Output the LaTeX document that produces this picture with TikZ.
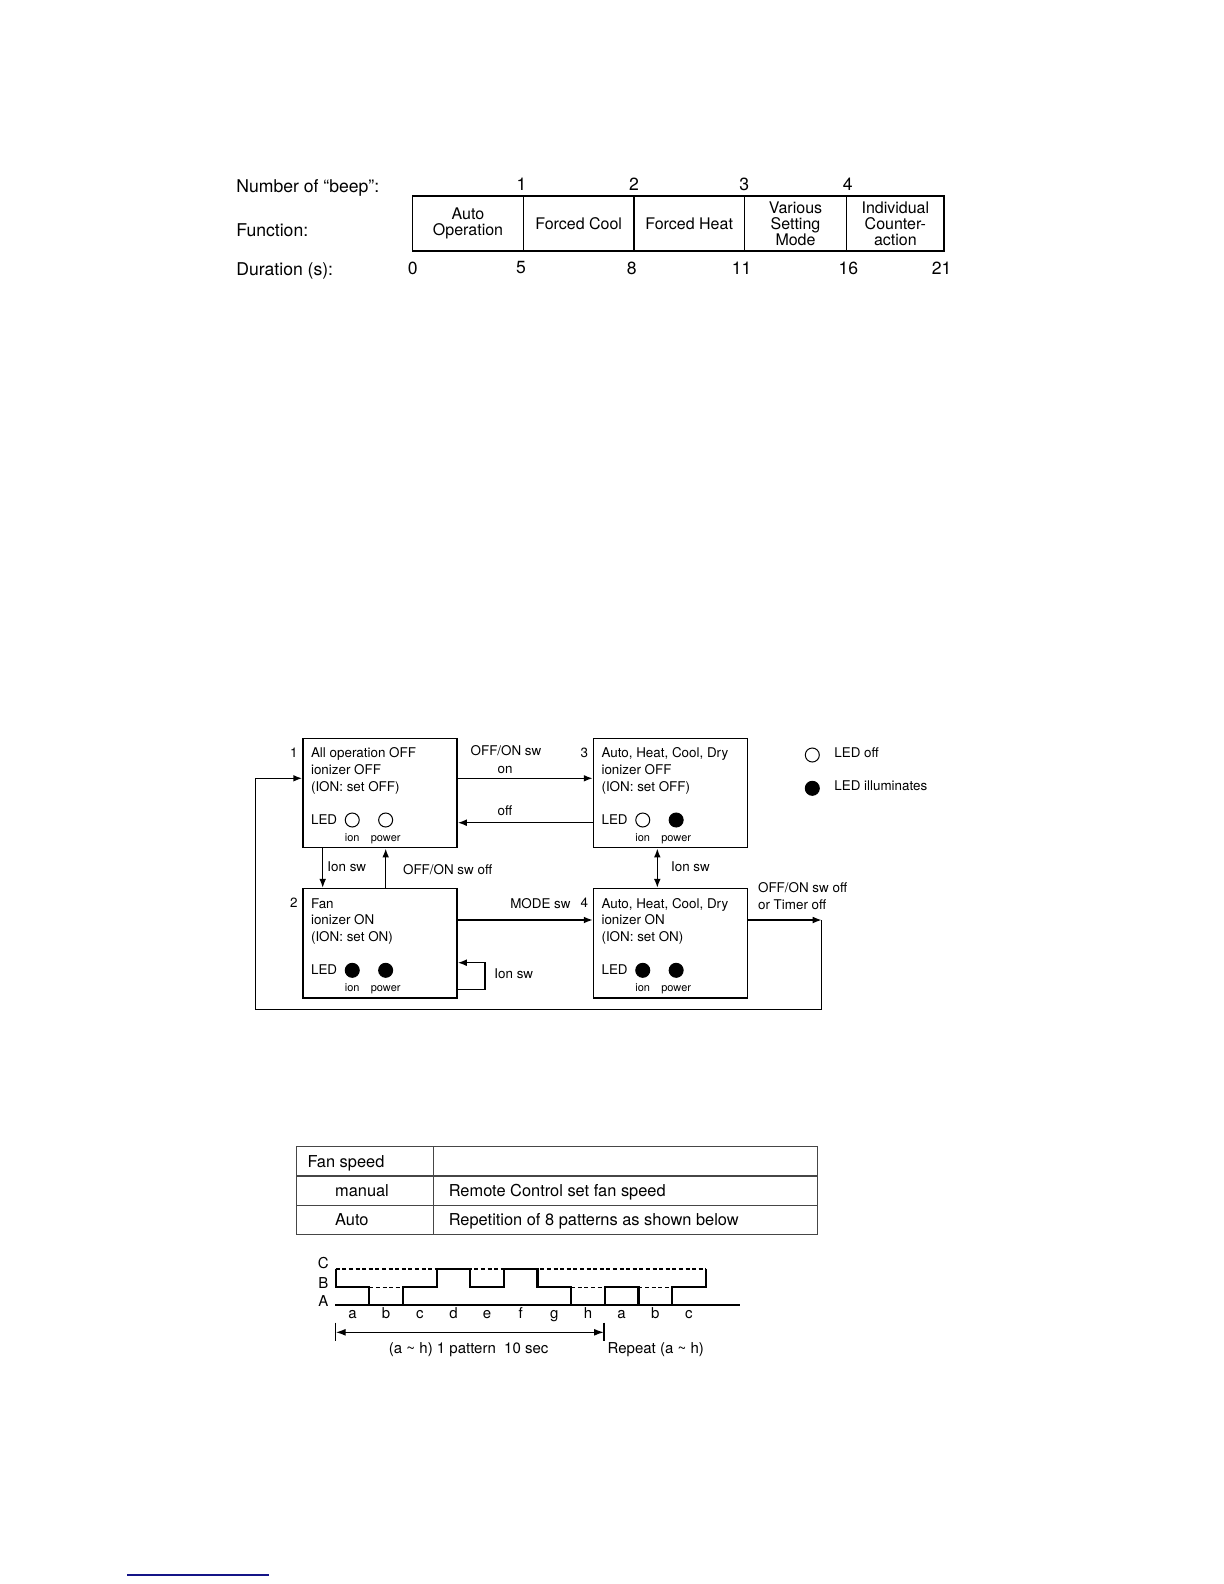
\documentclass[tikz,border=0pt]{standalone}
\usepackage{fontspec}
\setmainfont{TeX Gyre Heros}
\usepackage{xcolor}
\usepackage{tikz}
\usetikzlibrary{arrows.meta,positioning,calc}
\definecolor{linkblue}{RGB}{20,20,135}
\definecolor{gridgray}{RGB}{70,70,70}

\begin{document}
\begin{tikzpicture}[
  x=0.5pt, y=-0.5pt,
  every node/.style={inner sep=0pt},
  lbl/.style={font=\fontsize{8.8}{10}\selectfont},
  fcell/.style={draw, line width=0.7pt, minimum height=27.5pt, font=\fontsize{8}{8}\selectfont, align=center},
  state/.style={draw, line width=0.75pt, minimum width=77pt, minimum height=54.7pt},
  stxt/.style={font=\fontsize{6.7}{8.3}\selectfont, align=left},
  small/.style={font=\fontsize{5.5}{6}\selectfont, text height=4pt, text depth=1.2pt},
  led/.style={circle, draw, line width=0.5pt, minimum size=7pt},
  arr/.style={-{Latex[length=4.5pt,width=3.4pt]}, line width=0.75pt},
  tcell/.style={draw=gridgray, line width=0.6pt, minimum height=14.6pt},
  ttxt/.style={font=\fontsize{8.2}{10}\selectfont, anchor=west, text height=7.5pt, text depth=1.6pt},
  wave/.style={line width=1.1pt},
  wdash/.style={line width=0.6pt, dash pattern=on 2pt off 1.3pt},
  wlbl/.style={font=\fontsize{7.5}{9}\selectfont, text height=5.4pt, text depth=1.6pt}
]
\useasboundingbox (0,0) rectangle (1224,1584);

% beep table
\node[lbl, anchor=west] (nbeep) at (236,188) {Number of “beep”:};
\node[lbl, anchor=west] (nfunc) at (236,230) {Function:};
\node[lbl, anchor=west] (ndur) at (236,271) {Duration (s):};
\foreach \xa/\xb/\txt [count=\i] in {412.7/523.3/{Auto\\Operation}, 523.3/634/{Forced Cool}, 634/744.3/{Forced Heat}, 744.3/846.7/{Various\\Setting\\Mode}, 846.7/944/{Individual\\Counter-\\action}} {
  \node[fcell, minimum width={(\xb-\xa)*0.5pt}] (f\i) at ({(\xa+\xb)/2},223.5) {\txt};
}
\foreach \x/\n in {521.5/1, 634/2, 744.3/3, 847.7/4} {
  \node[lbl] (b\n) at (\x,184.5) {\n};
}
\foreach \x/\n [count=\i] in {412.7/0, 521/5, 631.7/8, 741.7/11, 848.3/16, 941.7/21} {
  \node[lbl] (d\i) at (\x,268) {\n};
}

% state diagram
\foreach \n/\cx/\cy/\ta/\tb/\tc/\fa/\fb in {
  1/380/793/{All operation OFF}/{ionizer OFF}/{(ION: set OFF)}/white/white,
  2/380/943.3/{Fan}/{ionizer ON}/{(ION: set ON)}/black/black,
  3/670.5/793/{Auto, Heat, Cool, Dry}/{ionizer OFF}/{(ION: set OFF)}/white/black,
  4/670.5/943.3/{Auto, Heat, Cool, Dry}/{ionizer ON}/{(ION: set ON)}/black/black} {
  \node[state] (s\n) at (\cx,\cy) {};
  \node[stxt, anchor=north west] at ([xshift=4.2pt,yshift=-5pt]s\n.north west) {\ta\\\tb\\\tc};
  \node[stxt, anchor=base west] at ([xshift=4.2pt,yshift=-15.8pt]s\n.west) {LED};
  \node[led, fill=\fa] (i\n) at ([xshift=25pt,yshift=-13.5pt]s\n.west) {};
  \node[led, fill=\fb] (p\n) at ([xshift=41.7pt,yshift=-13.5pt]s\n.west) {};
  \node[small] at ([yshift=-9.2pt]i\n) {ion};
  \node[small] at ([yshift=-9.2pt]p\n) {power};
  \node[stxt, anchor=east] at ([xshift=-2.2pt,yshift=-7.5pt]s\n.north west) {\n};
}

\draw[arr] ([yshift=7.35pt]s1.east) -- ([yshift=7.35pt]s3.west);
\draw[arr] ([yshift=-14.85pt]s3.east -| s3.west) -- ([yshift=-14.85pt]s1.east);
\draw[arr] ([xshift=-28.65pt]s1.south) -- ([xshift=-28.65pt]s2.north);
\draw[arr] ([xshift=2.85pt]s2.north) -- ([xshift=2.85pt]s1.south);
\draw[arr] ([yshift=11.65pt]s2.east) -- ([yshift=11.65pt]s4.west);
\draw[arr, {Latex[length=4.5pt,width=3.4pt]}-{Latex[length=4.5pt,width=3.4pt]}] ([xshift=-6.6pt]s3.south) -- ([xshift=-6.6pt]s4.north);
\coordinate (loop) at (485,962.7);
\draw[arr] ([yshift=-23pt]s2.east) -| (loop) -- (loop -| s2.east);
\coordinate (rt) at (821.7,920);
\coordinate (lb) at (255.7,1009.3);
\draw[arr] ([yshift=11.65pt]s4.east) -- (rt);
\draw[arr] (rt) |- (lb) |- ([yshift=7.35pt]s1.west);

\node[stxt] at (506,751) {OFF/ON sw};
\node[stxt] at (505,770) {on};
\node[stxt] at (505,810.7) {off};
\node[stxt, anchor=west] at (327,866.7) {Ion sw};
\node[stxt, anchor=west] at (402.7,870) {OFF/ON sw off};
\node[stxt, anchor=east] at (571,903.3) {MODE sw};
\node[stxt, anchor=west] at (494,973.3) {Ion sw};
\node[stxt, anchor=west] at (670.7,866.7) {Ion sw};
\node[stxt, anchor=west] at (757.7,896.3) {OFF/ON sw off\\or Timer off};

% legend
\node[led, fill=white] (loff) at (812.3,755) {};
\node[stxt, anchor=west] at (834,752.3) {LED off};
\node[led, fill=black] (lon) at (812.3,788.3) {};
\node[stxt, anchor=west] at (834,785.7) {LED illuminates};

% fan speed table
\foreach \r/\y/\dx/\ta/\tb in {1/1161.3/5.5/{Fan speed}/{}, 2/1190.5/19.3/{manual}/{Remote Control set fan speed}, 3/1219.7/19.3/{Auto}/{Repetition of 8 patterns as shown below}} {
  \node[tcell, minimum width=68.3pt] (ka\r) at (365,\y) {};
  \node[tcell, minimum width=192.2pt] (kb\r) at (625.5,\y) {};
  \node[ttxt] at ([xshift=\dx pt]ka\r.west) {\ta};
  \node[ttxt] at ([xshift=7.85pt]kb\r.west) {\tb};
}

% fan pattern
\foreach \lv/\y in {C/1264.5, B/1284.5, A/1303} {
  \node[wlbl] (lv\lv) at (323.3,\y) {\lv};
}
\draw[wdash] (335.7,1269) -- (705.74,1269);
\draw[wdash] (369.34,1287.3) -- (402.98,1287.3);
\draw[wdash] (571.18,1287.3) -- (604.82,1287.3);
\draw[wdash] (638.46,1287.3) -- (672.1,1287.3);
\draw[line width=0.7pt] (335,1305) -- (740,1305);
\draw[wave] (335.7,1269) |- (369.34,1287.3) |- (402.98,1305) |- (436.62,1287.3)
  |- (470.26,1269) |- (503.9,1287.3) |- (537.54,1269) |- (571.18,1287.3)
  |- (604.82,1305) |- (638.46,1287.3) |- (672.1,1305) |- (705.74,1287.3) -- (705.74,1269);
\foreach \c [count=\i from 0] in {a,b,c,d,e,f,g,h,a,b,c} {
  \node[wlbl] at ({335.7+33.64*(\i+0.5)},1315) {\c};
}
\coordinate (pa) at (335.7,1332.3);
\coordinate (pb) at (604,1332.3);
\draw[line width=0.6pt] (335.7,1322.7) -- (335.7,1340.7);
\draw[line width=0.6pt] (604,1322.7) -- (604,1340.7);
\draw[line width=0.7pt, {Latex[length=5pt,width=3.5pt]}-{Latex[length=5pt,width=3.5pt]}] (pa) -- (pb);
\node[wlbl] at (468.7,1350) {(a \textasciitilde{} h) 1 pattern\ \ 10 sec};
\node[wlbl, anchor=west] at (607.3,1350) {Repeat (a \textasciitilde{} h)};

\draw[linkblue, line width=0.6pt] (127.3,1575) -- (269,1575);
\end{tikzpicture}
\end{document}
